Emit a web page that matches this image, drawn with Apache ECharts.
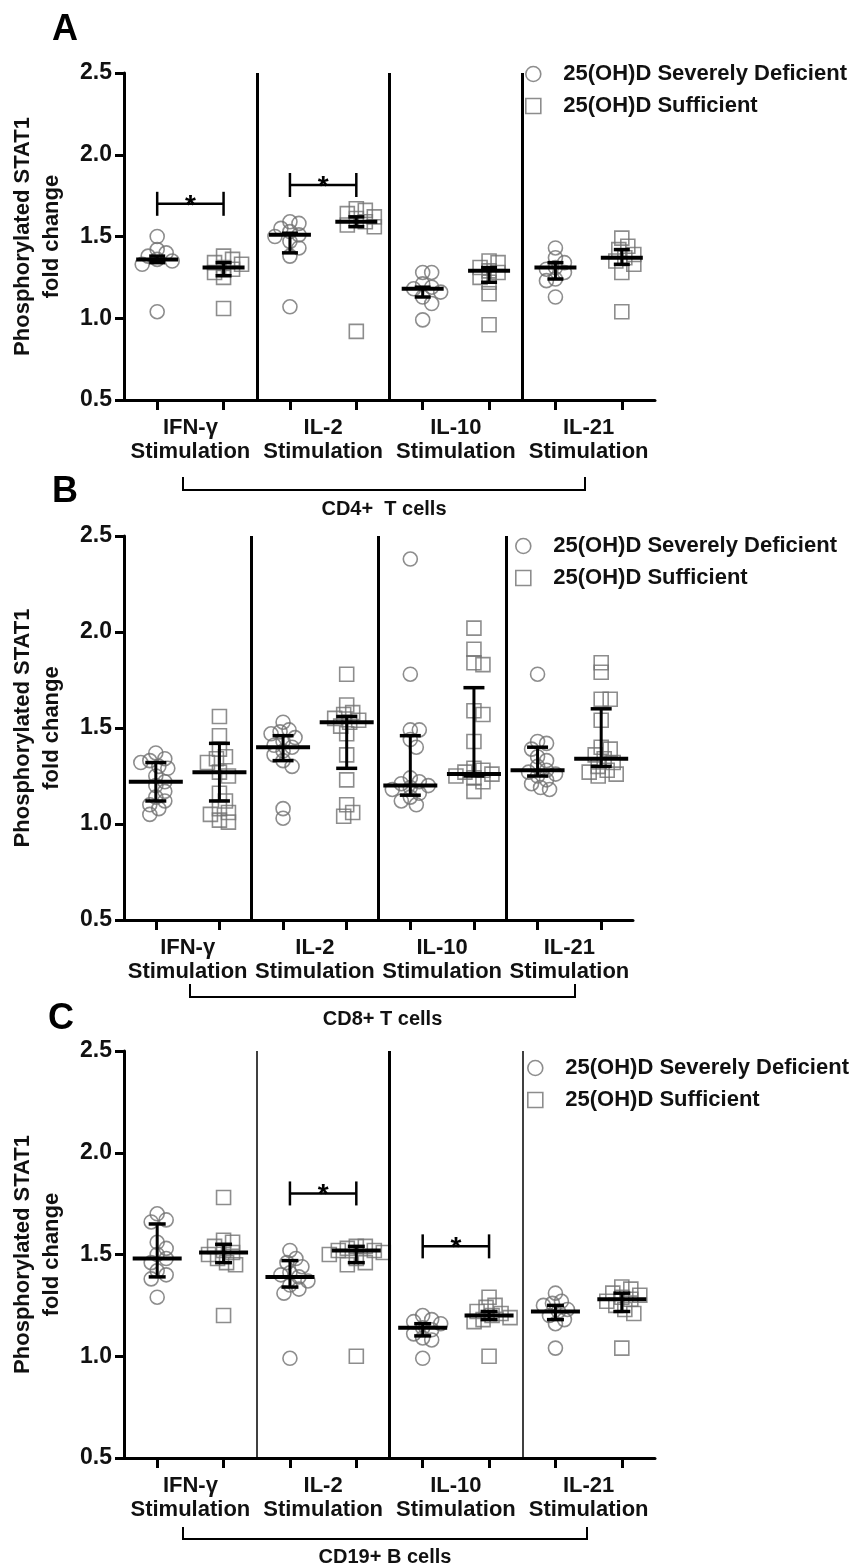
<!DOCTYPE html>
<html><head><meta charset="utf-8">
<script src="https://cdn.jsdelivr.net/npm/echarts@6/dist/echarts.min.js"></script>
<style>html,body{margin:0;padding:0;background:#fff}#chart{width:864px;height:1568px}</style>
</head><body><div id="chart"></div>
<script>
// ---------------- DATA ----------------
const stimulations = ['IFN-γ\nStimulation', 'IL-2\nStimulation', 'IL-10\nStimulation', 'IL-21\nStimulation'];
const groups = ['25(OH)D Severely Deficient', '25(OH)D Sufficient'];
const panelLetters = ['A', 'B', 'C'];
const cellTypes = ['CD4+  T cells', 'CD8+ T cells', 'CD19+ B cells'];
const yAxisName = 'Phosphorylated STAT1\nfold change';
const yMin = 0.5, yMax = 2.5, yStep = 0.5;

// Panel A: CD4+ T cells (per stimulation: IFN-γ, IL-2, IL-10, IL-21)
const cd4Deficient = [
  [1.50, 1.42, 1.40, 1.38, 1.36, 1.35, 1.33, 1.04],
  [1.59, 1.58, 1.55, 1.53, 1.51, 1.50, 1.47, 1.43, 1.38, 1.07],
  [1.28, 1.28, 1.21, 1.19, 1.18, 1.16, 1.13, 1.09, 0.99],
  [1.43, 1.37, 1.34, 1.31, 1.30, 1.28, 1.24, 1.23, 1.13]
];
const cd4Sufficient = [
  [1.38, 1.36, 1.34, 1.33, 1.31, 1.30, 1.28, 1.25, 1.06],
  [1.67, 1.66, 1.64, 1.62, 1.61, 1.59, 1.57, 1.56, 0.92],
  [1.35, 1.34, 1.31, 1.29, 1.28, 1.25, 1.22, 1.15, 0.96],
  [1.49, 1.44, 1.42, 1.39, 1.37, 1.35, 1.33, 1.28, 1.04]
];
// [median, lower, upper]
const cd4DeficientSummary = [[1.36, 1.34, 1.38], [1.51, 1.40, 1.52], [1.18, 1.13, 1.19], [1.31, 1.24, 1.34]];
const cd4SufficientSummary = [[1.31, 1.26, 1.34], [1.59, 1.56, 1.62], [1.29, 1.22, 1.31], [1.37, 1.33, 1.42]];
// [stimulation index, bracket level]
const cd4Significance = [[0, 1.70], [1, 1.815]];

// Panel B: CD8+ T cells
const cd8Deficient = [
  [1.37, 1.34, 1.33, 1.32, 1.30, 1.29, 1.25, 1.22, 1.20, 1.17, 1.14, 1.12, 1.10, 1.08, 1.05],
  [1.53, 1.49, 1.48, 1.47, 1.45, 1.43, 1.41, 1.40, 1.38, 1.36, 1.33, 1.30, 1.08, 1.03],
  [2.38, 1.78, 1.49, 1.49, 1.44, 1.40, 1.24, 1.22, 1.21, 1.20, 1.19, 1.18, 1.16, 1.14, 1.12, 1.10],
  [1.78, 1.43, 1.42, 1.39, 1.35, 1.33, 1.30, 1.28, 1.27, 1.26, 1.25, 1.23, 1.21, 1.19, 1.18]
];
const cd8Sufficient = [
  [1.56, 1.46, 1.39, 1.35, 1.34, 1.32, 1.27, 1.25, 1.16, 1.12, 1.08, 1.06, 1.05, 1.02, 1.01],
  [1.78, 1.62, 1.58, 1.57, 1.55, 1.54, 1.53, 1.51, 1.47, 1.36, 1.23, 1.10, 1.06, 1.04],
  [2.02, 1.91, 1.84, 1.83, 1.59, 1.57, 1.43, 1.29, 1.28, 1.27, 1.26, 1.25, 1.24, 1.22, 1.17],
  [1.84, 1.79, 1.65, 1.65, 1.54, 1.40, 1.39, 1.36, 1.34, 1.32, 1.30, 1.28, 1.27, 1.26, 1.25]
];
const cd8DeficientSummary = [[1.22, 1.12, 1.32], [1.40, 1.33, 1.46], [1.20, 1.15, 1.46], [1.28, 1.25, 1.40]];
const cd8SufficientSummary = [[1.27, 1.12, 1.42], [1.53, 1.29, 1.56], [1.26, 1.25, 1.71], [1.34, 1.30, 1.60]];
const cd8Significance = [];

// Panel C: CD19+ B cells
const cd19Deficient = [
  [1.70, 1.67, 1.66, 1.56, 1.53, 1.50, 1.48, 1.46, 1.42, 1.40, 1.38, 1.29],
  [1.52, 1.48, 1.46, 1.44, 1.41, 1.40, 1.39, 1.37, 1.35, 1.33, 1.31, 0.99],
  [1.20, 1.18, 1.17, 1.16, 1.14, 1.13, 1.11, 1.09, 1.08, 0.99],
  [1.31, 1.27, 1.26, 1.25, 1.23, 1.22, 1.20, 1.18, 1.16, 1.04]
];
const cd19Sufficient = [
  [1.78, 1.57, 1.56, 1.54, 1.52, 1.51, 1.50, 1.48, 1.46, 1.45, 1.20],
  [1.54, 1.54, 1.53, 1.52, 1.52, 1.51, 1.50, 1.48, 1.46, 1.45, 1.00],
  [1.29, 1.25, 1.24, 1.22, 1.21, 1.20, 1.19, 1.18, 1.17, 1.00],
  [1.34, 1.33, 1.31, 1.30, 1.29, 1.28, 1.27, 1.25, 1.23, 1.21, 1.04]
];
const cd19DeficientSummary = [[1.48, 1.39, 1.65], [1.39, 1.34, 1.47], [1.14, 1.10, 1.16], [1.22, 1.18, 1.25]];
const cd19SufficientSummary = [[1.51, 1.46, 1.55], [1.52, 1.46, 1.54], [1.20, 1.18, 1.22], [1.28, 1.22, 1.31]];
const cd19Significance = [[1, 1.80], [2, 1.54]];

// ---------------- LAYOUT / STYLE ----------------
const FONT = '"Liberation Sans", Arial, Helvetica, sans-serif';
const MARKER_GRAY = '#707070';
const panels = [
  { def: cd4Deficient, suf: cd4Sufficient, defS: cd4DeficientSummary, sufS: cd4SufficientSummary, sig: cd4Significance,
    grid: { left: 122, width: 533, top: 73, height: 327 }, medianW: 42, capW: 16, sepW: [3, 3, 3],
    legend: { left: 525, top: 63 }, letter: [52, 12], bracket: { x1: 183, x2: 585, y: 490, h: 13 }, cellY: 509 },
  { def: cd8Deficient, suf: cd8Sufficient, defS: cd8DeficientSummary, sufS: cd8SufficientSummary, sig: cd8Significance,
    grid: { left: 123, width: 510, top: 536, height: 384 }, medianW: 54, capW: 21, sepW: [3, 3, 3],
    legend: { left: 515, top: 535 }, letter: [52, 474], bracket: { x1: 190, x2: 575, y: 997, h: 13 }, cellY: 1019 },
  { def: cd19Deficient, suf: cd19Sufficient, defS: cd19DeficientSummary, sufS: cd19SufficientSummary, sig: cd19Significance,
    grid: { left: 124, width: 531, top: 1051, height: 407 }, medianW: 49, capW: 17, sepW: [1.5, 3, 1.5],
    legend: { left: 527, top: 1057 }, letter: [48, 1001], bracket: { x1: 183, x2: 587, y: 1539, h: 12 }, cellY: 1557 }
];

const catIds = [];
stimulations.forEach((s, i) => groups.forEach((g, j) => catIds.push(i + '-' + j)));

const option = { animation: false, backgroundColor: '#fff', grid: [], xAxis: [], yAxis: [], series: [], legend: [], graphic: [] };

function errRenderer(p) {
  return function (params, api) {
    const x = api.value(0);
    const c = api.coord([x, api.value(1)]);
    const lo = api.coord([x, api.value(2)]);
    const hi = api.coord([x, api.value(3)]);
    const mw = panels[p].medianW / 2, cw = panels[p].capW / 2;
    const st = { stroke: '#000', lineWidth: 3.5 };
    return { type: 'group', children: [
      { type: 'line', shape: { x1: c[0], y1: lo[1], x2: c[0], y2: hi[1] }, style: { stroke: '#000', lineWidth: 3 } },
      { type: 'line', shape: { x1: c[0] - cw, y1: lo[1], x2: c[0] + cw, y2: lo[1] }, style: st },
      { type: 'line', shape: { x1: c[0] - cw, y1: hi[1], x2: c[0] + cw, y2: hi[1] }, style: st },
      { type: 'line', shape: { x1: c[0] - mw, y1: c[1], x2: c[0] + mw, y2: c[1] }, style: { stroke: '#000', lineWidth: 4 } }
    ] };
  };
}
function sigRenderer(params, api) {
  const a = api.coord([api.value(0), api.value(2)]);
  const b = api.coord([api.value(1), api.value(2)]);
  const h = 12;
  const st = { stroke: '#000', lineWidth: 2.5 };
  return { type: 'group', children: [
    { type: 'line', shape: { x1: a[0], y1: a[1], x2: b[0], y2: b[1] }, style: st },
    { type: 'line', shape: { x1: a[0], y1: a[1] - h, x2: a[0], y2: a[1] + h }, style: st },
    { type: 'line', shape: { x1: b[0], y1: b[1] - h, x2: b[0], y2: b[1] + h }, style: st },
    { type: 'text', x: (a[0] + b[0]) / 2, y: a[1] + 2, style: { text: '*', fontSize: 28, fontWeight: 'bold', fontFamily: FONT, fill: '#000', align: 'center', verticalAlign: 'middle' } }
  ] };
}

panels.forEach((P, p) => {
  option.grid.push(Object.assign({ containLabel: false }, P.grid));
  option.xAxis.push({
    gridIndex: p, type: 'category', position: 'bottom', data: catIds, boundaryGap: true,
    axisLine: { show: true, lineStyle: { color: '#000', width: 3 } },
    axisTick: { show: true, alignWithLabel: true, interval: 0, length: 10, lineStyle: { color: '#000', width: 3 } },
    axisLabel: { show: false }, splitLine: { show: false }
  });
  option.xAxis.push({
    gridIndex: p, type: 'category', position: 'bottom', data: stimulations,
    axisLine: { show: false }, axisTick: { show: false }, splitLine: { show: false },
    axisLabel: { interval: 0, margin: 16, fontSize: 22, fontWeight: 'bold', lineHeight: 24, color: '#111', fontFamily: FONT }
  });
  option.xAxis.push({ gridIndex: p, type: 'value', position: 'bottom', min: 0, max: stimulations.length, show: false });
  option.yAxis.push({
    gridIndex: p, type: 'value', min: yMin, max: yMax, interval: yStep,
    axisLine: { show: true, lineStyle: { color: '#000', width: 3 } },
    axisTick: { show: true, length: 9, lineStyle: { color: '#000', width: 3 } },
    axisLabel: { formatter: v => v.toFixed(1), fontSize: 23, fontWeight: 'bold', color: '#111', margin: 12, fontFamily: FONT },
    splitLine: { show: false },
    name: yAxisName, nameLocation: 'middle', nameGap: 58,
    nameTextStyle: { fontSize: 22, fontWeight: 'bold', lineHeight: 29, color: '#111', fontFamily: FONT }
  });
  const xi = 3 * p;
  [P.def, P.suf].forEach((arr, g) => {
    const data = [];
    arr.forEach((vals, s) => vals.forEach(v => data.push([2 * s + g, v])));
    option.series.push({
      id: 'pts-' + p + '-' + g, name: groups[g], type: 'scatter', xAxisIndex: xi, yAxisIndex: p,
      symbol: g === 0 ? 'circle' : 'rect', symbolSize: 14, z: 2,
      itemStyle: { color: 'rgba(255,255,255,0)', borderColor: MARKER_GRAY, borderWidth: 1.6 },
      data: data
    });
  });
  const errData = [];
  [P.defS, P.sufS].forEach((arr, g) => arr.forEach((r, s) => errData.push([2 * s + g, r[0], r[1], r[2]])));
  option.series.push({ type: 'custom', xAxisIndex: xi, yAxisIndex: p, z: 5, silent: true, renderItem: errRenderer(p),
    encode: { x: 0, y: [1, 2, 3] }, data: errData });
  if (P.sig.length) {
    option.series.push({ type: 'custom', xAxisIndex: xi, yAxisIndex: p, z: 5, silent: true, renderItem: sigRenderer,
      encode: { x: [0, 1], y: 2 }, data: P.sig.map(r => [2 * r[0], 2 * r[0] + 1, r[1]]) });
  }
  option.series.push({ type: 'line', xAxisIndex: xi + 2, yAxisIndex: p, data: [], silent: true,
    markLine: { symbol: 'none', silent: true, label: { show: false },
      data: [1, 2, 3].map((v, i) => ({ xAxis: v, lineStyle: { color: '#000', width: P.sepW[i], type: 'solid' } })) } });
  option.legend.push({
    left: P.legend.left, top: P.legend.top, orient: 'vertical', padding: 0, itemWidth: 50, itemHeight: 15, itemGap: 10,
    selectedMode: false, textStyle: { fontSize: 22, fontWeight: 'bold', color: '#111', fontFamily: FONT },
    data: [
      { name: groups[0], icon: 'circle', itemStyle: { color: 'rgba(255,255,255,0)', borderColor: MARKER_GRAY, borderWidth: 1.6 } },
      { name: groups[1], icon: 'path://M0,0H10V10H0Z', itemStyle: { color: 'rgba(255,255,255,0)', borderColor: MARKER_GRAY, borderWidth: 1.6 } }
    ]
  });
  option.graphic.push({ type: 'text', left: P.letter[0], top: P.letter[1],
    style: { text: panelLetters[p], fontSize: 36, fontWeight: 'bold', fontFamily: FONT, fill: '#000' } });
  const B = P.bracket;
  option.graphic.push({ type: 'polyline', shape: { points: [[B.x1, B.y - B.h], [B.x1, B.y], [B.x2, B.y], [B.x2, B.y - B.h]] },
    style: { stroke: '#000', lineWidth: 2, fill: null } });
  option.graphic.push({ type: 'text', x: (B.x1 + B.x2) / 2, y: P.cellY,
    style: { text: cellTypes[p], fontSize: 20, fontWeight: 'bold', fontFamily: FONT, fill: '#111', align: 'center', verticalAlign: 'middle' } });
});

const chart = echarts.init(document.getElementById('chart'), null, { renderer: 'canvas' });
chart.setOption(option);

// Beeswarm-style horizontal spreading of overlapping points (computed from the pixel scale)
function swarm(points, minDist, step) {
  const order = points.map((p, i) => i).sort((a, b) => points[a].y - points[b].y);
  const placed = [];
  const off = new Array(points.length).fill(0);
  order.forEach(i => {
    const y = points[i].y;
    for (let k = 0; k < 200; k++) {
      const cands = k === 0 ? [0] : [k * step, -k * step];
      let ok = null;
      for (const dx of cands) {
        if (placed.every(q => (dx - q.dx) ** 2 + (y - q.y) ** 2 >= minDist * minDist)) { ok = dx; break; }
      }
      if (ok !== null) { off[i] = ok; placed.push({ dx: ok, y: y }); break; }
    }
  });
  return off;
}
const updates = [];
option.series.forEach((s, si) => {
  if (s.type !== 'scatter') return;
  const byCat = {};
  s.data.forEach((d, i) => {
    const px = chart.convertToPixel({ seriesIndex: si }, d);
    (byCat[d[0]] = byCat[d[0]] || []).push({ i: i, y: px[1] });
  });
  const newData = s.data.map(d => ({ value: d }));
  Object.keys(byCat).forEach(k => {
    const pts = byCat[k];
    const off = swarm(pts, 9, 3);
    pts.forEach((pt, j) => { newData[pt.i].symbolOffset = [off[j], 0]; });
  });
  updates.push({ id: s.id, data: newData });
});
chart.setOption({ series: updates });
</script>
</body></html>
